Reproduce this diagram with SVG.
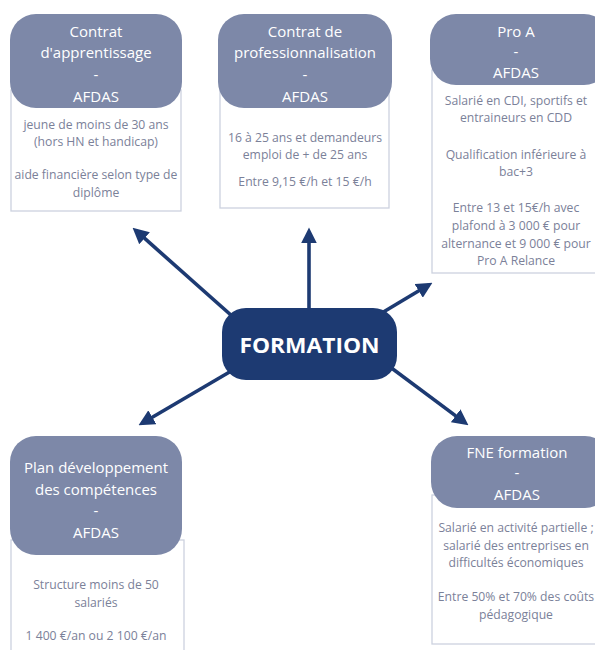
<svg xmlns="http://www.w3.org/2000/svg" width="595" height="650" viewBox="0 0 595 650">
<defs>
<marker id="ah" markerUnits="userSpaceOnUse" markerWidth="16" markerHeight="16" viewBox="0 0 14 14" refX="10" refY="7" orient="auto">
<path d="M0,0 L14,7 L0,14 z" fill="#1d3a72"/>
</marker>
</defs>
<style>
.body{fill:#ffffff;stroke:#ccd2df;stroke-width:1.3}
.head{fill:#7d88a8}
.ht{font-family:"Open Sans","Noto Sans",sans-serif;font-size:15px;fill:#ffffff;text-anchor:middle}
.bt{font-family:"Open Sans","Noto Sans",sans-serif;font-size:12.2px;fill:#7b8199;text-anchor:middle}
.conn line{stroke:#1d3a72;stroke-width:3.6;marker-end:url(#ah)}
</style>
<rect width="595" height="650" fill="#ffffff"/>

<g id="connectors" class="conn">
<line x1="250" y1="332" x2="136" y2="230.7"/>
<line x1="309" y1="320" x2="309" y2="232"/>
<line x1="370" y1="320" x2="428.5" y2="285"/>
<line x1="250" y1="360" x2="142.5" y2="423"/>
<line x1="370" y1="352" x2="464.8" y2="422.6"/>
</g>

<g id="center">
<rect x="222" y="308" width="175" height="72" rx="24" fill="#1d3a72"/>
<text x="309.5" y="353" font-family="'Open Sans','Noto Sans',sans-serif" font-size="21" font-weight="bold" fill="#ffffff" text-anchor="middle" textLength="140" lengthAdjust="spacingAndGlyphs">FORMATION</text>
</g>

<g id="contrat-apprentissage">
<rect class="body" x="11" y="90" width="170" height="121"/>
<rect class="head" x="10" y="14" width="172" height="94" rx="26"/>
<text class="ht" x="96" y="37">Contrat</text>
<text class="ht" x="96" y="58">d'apprentissage</text>
<text class="ht" x="96" y="80">-</text>
<text class="ht" x="96" y="102">AFDAS</text>
<text class="bt" x="96" y="129">jeune de moins de 30 ans</text>
<text class="bt" x="96" y="146">(hors HN et handicap)</text>
<text class="bt" x="96" y="179">aide financière selon type de</text>
<text class="bt" x="96" y="197">diplôme</text>
</g>

<g id="contrat-professionnalisation">
<rect class="body" x="220" y="90" width="169" height="118"/>
<rect class="head" x="218" y="14" width="174" height="94" rx="26"/>
<text class="ht" x="305" y="37">Contrat de</text>
<text class="ht" x="305" y="58">professionnalisation</text>
<text class="ht" x="305" y="80">-</text>
<text class="ht" x="305" y="102">AFDAS</text>
<text class="bt" x="305" y="142">16 à 25 ans et demandeurs</text>
<text class="bt" x="305" y="159">emploi de + de 25 ans</text>
<text class="bt" x="305" y="186">Entre 9,15 €/h et 15 €/h</text>
</g>

<g id="pro-a">
<rect class="body" x="432" y="70" width="180" height="203"/>
<rect class="head" x="430" y="14" width="180" height="71" rx="26"/>
<text class="ht" x="516" y="37">Pro A</text>
<text class="ht" x="516" y="57">-</text>
<text class="ht" x="516" y="78">AFDAS</text>
<text class="bt" x="516" y="105">Salarié en CDI, sportifs et</text>
<text class="bt" x="516" y="122">entraineurs en CDD</text>
<text class="bt" x="516" y="159">Qualification inférieure à</text>
<text class="bt" x="516" y="176">bac+3</text>
<text class="bt" x="516" y="212">Entre 13 et 15€/h avec</text>
<text class="bt" x="516" y="230">plafond à 3 000 € pour</text>
<text class="bt" x="516" y="248">alternance et 9 000 € pour</text>
<text class="bt" x="516" y="265">Pro A Relance</text>
</g>

<g id="plan-developpement">
<rect class="body" x="11" y="540" width="173" height="130"/>
<rect class="head" x="10" y="436" width="172" height="119" rx="26"/>
<text class="ht" x="96" y="473">Plan développement</text>
<text class="ht" x="96" y="495">des compétences</text>
<text class="ht" x="96" y="516">-</text>
<text class="ht" x="96" y="538">AFDAS</text>
<text class="bt" x="96" y="589">Structure moins de 50</text>
<text class="bt" x="96" y="607">salariés</text>
<text class="bt" x="96" y="640">1 400 €/an ou 2 100 €/an</text>
</g>

<g id="fne-formation">
<rect class="body" x="432" y="495" width="180" height="149"/>
<rect class="head" x="431" y="436" width="180" height="72" rx="26"/>
<text class="ht" x="517" y="458">FNE formation</text>
<text class="ht" x="517" y="478">-</text>
<text class="ht" x="517" y="500">AFDAS</text>
<text class="bt" x="516" y="532">Salarié en activité partielle ;</text>
<text class="bt" x="516" y="550">salarié des entreprises en</text>
<text class="bt" x="516" y="567">difficultés économiques</text>
<text class="bt" x="516" y="601">Entre 50% et 70% des coûts</text>
<text class="bt" x="516" y="619">pédagogique</text>
</g>
</svg>
